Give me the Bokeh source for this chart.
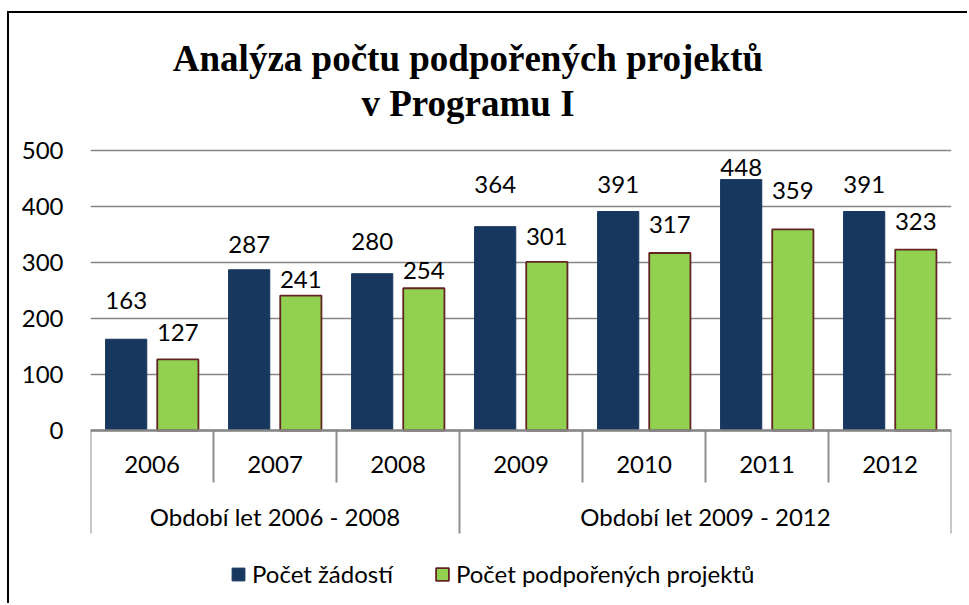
from bokeh.plotting import figure
from bokeh.models import (ColumnDataSource, FactorRange, FixedTicker, Label, Range1d)
from bokeh.transform import dodge
from bokeh.core.properties import value
from bokeh.embed import file_html
from bokeh.resources import INLINE

# ---------------- data ----------------
title_lines = ["Analýza počtu podpořených projektů", "v Programu I"]
periods = ["Období let 2006 - 2008", "Období let 2009 - 2012"]
years = ["2006", "2007", "2008", "2009", "2010", "2011", "2012"]
year_period = [0, 0, 0, 1, 1, 1, 1]
zadosti = [163, 287, 280, 364, 391, 448, 391]
podporene = [127, 241, 254, 301, 317, 359, 323]
series_names = ["Počet žádostí", "Počet podpořených projektů"]
y_ticks = [0, 100, 200, 300, 400, 500]

# ---------------- styling ----------------
NAVY = "#17375E"
GREEN = "#92D050"
GREEN_EDGE = "#632523"
GRID = "#868686"
SEP = "#8f8f8f"
FONT = "Lato"
FS = "24px"
TITLE_FONT = "Liberation Serif"
# data-label centre offsets in px relative to bar top (as placed in the source chart)
navy_label_dy = [-39, -25, -32, -42, -27, -12, -27]
green_label_dy = [-27, -16, -18, -25, -28, -39, -28]

PAGE_W, PAGE_H = 969, 605
OFF_X, OFF_Y = 9, 13          # chart border (7px / 11px from page edge, 2px thick)
W, H = PAGE_W - OFF_X, PAGE_H - OFF_Y
FRAME_LEFT = 90 - OFF_X
FRAME_RIGHT_PAD = PAGE_W - 951
ZERO_FROM_TOP = 430 - OFF_Y   # px from canvas top to value 0
PX = 0.56                     # px per unit
y_end = ZERO_FROM_TOP / PX
y_start = -(H - ZERO_FROM_TOP) / PX


def px(d):
    return d / PX


x_factors = [(periods[g], y) for g, y in zip(year_period, years)]

src = ColumnDataSource(dict(
    x=x_factors,
    zadosti=zadosti,
    podporene=podporene,
    lab_z=[str(v) for v in zadosti],
    lab_p=[str(v) for v in podporene],
    dy_z=navy_label_dy,
    dy_p=green_label_dy,
    year=years,
))

p = figure(width=W, height=H, title=None,
           x_range=FactorRange(factors=x_factors, range_padding=0, factor_padding=0,
                               subgroup_padding=0, group_padding=0),
           y_range=Range1d(y_start, y_end),
           x_axis_location=None, output_backend="svg", toolbar_location=None,
           min_border_left=FRAME_LEFT, min_border_right=FRAME_RIGHT_PAD,
           min_border_top=0, min_border_bottom=0,
           styles={"margin-left": "7px", "margin-top": "11px",
                   "border-left": "2px solid black", "border-top": "2px solid black"})
p.outline_line_color = None
p.background_fill_color = "white"
p.border_fill_color = "white"
p.xgrid.visible = False

# y axis + grid
p.yaxis.ticker = FixedTicker(ticks=y_ticks)
p.yaxis.axis_line_color = None
p.yaxis.major_tick_line_color = None
p.yaxis.minor_tick_line_color = None
p.yaxis.major_label_standoff = 21
p.yaxis.major_label_text_font = FONT
p.yaxis.major_label_text_font_size = FS
p.yaxis.major_label_text_color = "black"
p.ygrid.ticker = FixedTicker(ticks=y_ticks)
p.ygrid.grid_line_color = GRID
p.ygrid.grid_line_width = 1.3

# bars
p.vbar(x=dodge("x", -0.21, range=p.x_range), top="zadosti", width=0.335, source=src,
       fill_color=NAVY, line_color=NAVY, line_width=1, legend_label=series_names[0])
p.vbar(x=dodge("x", 0.21, range=p.x_range), top="podporene", width=0.335, source=src,
       fill_color=GREEN, line_color=GREEN_EDGE, line_width=1.8, legend_label=series_names[1])

# data labels
p.text(x=dodge("x", -0.21, range=p.x_range), y="zadosti", text="lab_z", y_offset="dy_z",
       source=src, text_align="center", text_baseline="middle",
       text_font=value(FONT), text_font_size=FS, text_color="black")
p.text(x=dodge("x", 0.21, range=p.x_range), y="podporene", text="lab_p", y_offset="dy_p",
       source=src, text_align="center", text_baseline="middle",
       text_font=value(FONT), text_font_size=FS, text_color="black")

# category axis (drawn with the categorical scale)
is_first = [i == 0 or year_period[i] != year_period[i - 1] for i in range(len(years))]
sep_src = ColumnDataSource(dict(x=x_factors,
                                y1=[-px(103) if f else -px(52) for f in is_first]))
p.segment(x0=dodge("x", -0.5, range=p.x_range), y0=0,
          x1=dodge("x", -0.5, range=p.x_range), y1="y1",
          source=sep_src, line_color=SEP, line_width=2)
end_src = ColumnDataSource(dict(x=[x_factors[-1]], y1=[-px(103)]))
p.segment(x0=dodge("x", 0.5, range=p.x_range), y0=0,
          x1=dodge("x", 0.5, range=p.x_range), y1="y1",
          source=end_src, line_color=SEP, line_width=2)
ax_src = ColumnDataSource(dict(a=[x_factors[0]], b=[x_factors[-1]]))
p.segment(x0=dodge("a", -0.5, range=p.x_range), y0=0,
          x1=dodge("b", 0.5, range=p.x_range), y1=0,
          source=ax_src, line_color=GRID, line_width=2.5)

p.text(x="x", y=0, text="year", y_offset=34, source=src, text_align="center",
       text_baseline="middle", text_font=value(FONT), text_font_size=FS,
       text_color="black")
grp_src = ColumnDataSource(dict(x=periods, t=periods))
p.text(x="x", y=0, text="t", y_offset=86, source=grp_src, text_align="center",
       text_baseline="middle", text_font=value(FONT), text_font_size=FS,
       text_color="black")

# title (frame-relative screen units: x from frame left, y from frame bottom)
for line, yc in zip(title_lines, [PAGE_H - 58, PAGE_H - 103]):
    p.add_layout(Label(x=467.5 - 90, y=yc, x_units="screen", y_units="screen",
                       text=line, text_align="center", text_baseline="middle",
                       text_font=TITLE_FONT, text_font_style="bold",
                       text_font_size="37px", text_color="black"))

# legend
leg = p.legend[0]
leg.location = (140, 17)
leg.orientation = "horizontal"
leg.glyph_width = 16
leg.glyph_height = 16
leg.label_standoff = 6
leg.spacing = 41
leg.padding = 0
leg.margin = 0
leg.border_line_color = None
leg.background_fill_alpha = 0
leg.label_text_font = FONT
leg.label_text_font_size = FS
leg.label_text_color = "black"

open("out.html", "w").write(file_html(p, INLINE))
